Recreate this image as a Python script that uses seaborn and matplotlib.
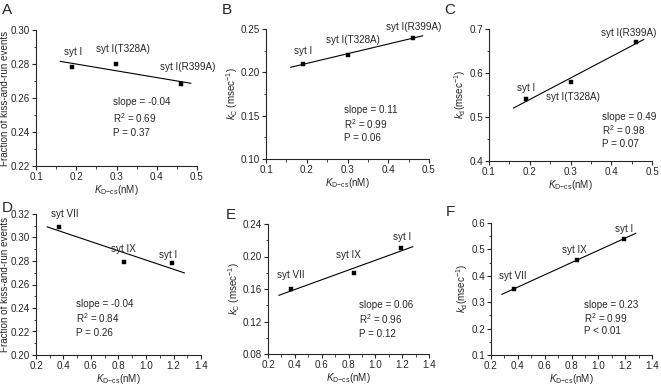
import numpy as np
import pandas as pd
import matplotlib
matplotlib.use("Agg")
import matplotlib.pyplot as plt
from matplotlib.ticker import MultipleLocator, FormatStrFormatter
import seaborn as sns

# top row: syt I and its mutants
kd_top = [0.19, 0.30, 0.46]
labels_top = ["syt I", "syt I(T328A)", "syt I(R399A)"]
frac_top = [0.278, 0.280, 0.268]
kc_top = [0.21, 0.22, 0.24]
kdiss_top = [0.54, 0.58, 0.67]

# bottom row: syt isoforms
kd_bot = [0.37, 0.84, 1.19]
labels_bot = ["syt VII", "syt IX", "syt I"]
frac_bot = [0.309, 0.279, 0.278]
kc_bot = [0.16, 0.18, 0.21]
kdiss_bot = [0.35, 0.46, 0.54]

stats_text = {
    "A": ["slope = -0.04", "R$^2$ = 0.69", "P = 0.37"],
    "B": ["slope = 0.11", "R$^2$ = 0.99", "P = 0.06"],
    "C": ["slope = 0.49", "R$^2$ = 0.98", "P = 0.07"],
    "D": ["slope = -0.04", "R$^2$ = 0.84", "P = 0.26"],
    "E": ["slope = 0.06", "R$^2$ = 0.96", "P = 0.12"],
    "F": ["slope = 0.23", "R$^2$ = 0.99", "P < 0.01"],
}

sns.set_style("ticks")
plt.rcParams["font.family"] = ["Liberation Sans", "DejaVu Sans"]
plt.rcParams["mathtext.fontset"] = "custom"
plt.rcParams["mathtext.rm"] = "Liberation Sans"
plt.rcParams["mathtext.it"] = "Liberation Sans:italic"
plt.rcParams["xtick.direction"] = "out"
plt.rcParams["ytick.direction"] = "out"

fs = 7.1
W, H = 661, 385
fig = plt.figure(figsize=(W / 100, H / 100), dpi=100)

ylab_frac = "Fraction of kiss-and-run events"
ylab_kc = r"$k_{\mathrm{C}}$ (msec$^{-1}$)"
ylab_kd = r"$k_{\mathrm{d}}$(msec$^{-1}$)"
xlab = r"$K_{\mathrm{D\!-\!cs}}$(nM)"

# panel settings: name, x, y, labels, pixel box (left, top, right, bottom),
# xlim, xstep, ylim, ystep, yfmt, ylabel, fit range, label positions, stats pos
panels = [
    ("A", kd_top, frac_top, labels_top, (36, 30, 197, 166), (0.1, 0.5), 0.1,
     (0.22, 0.30), 0.02, "%.2f", ylab_frac, (0.16, 0.485),
     [(0.191, 0.2872), (0.317, 0.2886), (0.478, 0.2784)], (0.477, 0.47, 0.115)),
    ("B", kd_top, kc_top, labels_top, (266, 29, 429, 159), (0.1, 0.5), 0.1,
     (0.10, 0.25), 0.05, "%.2f", ylab_kc, (0.16, 0.485),
     [(0.19, 0.225), (0.314, 0.2373), (0.463, 0.2527)], (0.48, 0.377, 0.108)),
    ("C", kd_top, kdiss_top, labels_top, (489, 29, 652, 161), (0.1, 0.5), 0.1,
     (0.4, 0.7), 0.1, "%.1f", ylab_kd, (0.16, 0.48),
     [(0.19, 0.565), (0.307, 0.5445), (0.444, 0.692)], (0.695, 0.335, 0.104)),
    ("D", kd_bot, frac_bot, labels_bot, (36, 214, 201, 355), (0.2, 1.4), 0.2,
     (0.20, 0.32), 0.02, "%.2f", ylab_frac, (0.28, 1.28),
     [(0.411, 0.3203), (0.835, 0.2905), (1.162, 0.2849)], (0.242, 0.364, 0.104)),
    ("E", kd_bot, kc_bot, labels_bot, (268, 224, 429, 354), (0.2, 1.4), 0.2,
     (0.08, 0.24), 0.04, "%.2f", ylab_kc, (0.28, 1.28),
     [(0.371, 0.1769), (0.797, 0.2015), (1.196, 0.2237)], (0.567, 0.375, 0.11)),
    ("F", kd_bot, kdiss_bot, labels_bot, (491, 223, 652, 355), (0.2, 1.4), 0.2,
     (0.1, 0.6), 0.1, "%.1f", ylab_kd, (0.28, 1.28),
     [(0.366, 0.398), (0.824, 0.497), (1.192, 0.5785)], (0.576, 0.376, 0.098)),
]

letter_pos = {"A": (2, 14), "B": (222, 14), "C": (444, 14),
              "D": (2, 212), "E": (226, 219), "F": (446, 216)}

for (name, xs, ys, labs, box, xlim, xstep, ylim, ystep, yfmt, ylabel,
     fit_rng, lab_pos, stat_pos) in panels:
    l, t, r, b = box
    ax = fig.add_axes([l / W, 1 - b / H, (r - l) / W, (b - t) / H])
    df = pd.DataFrame({"x": xs, "y": ys})
    sns.scatterplot(data=df, x="x", y="y", marker="s", s=10, color="black",
                    edgecolor="black", linewidth=0.3, ax=ax, zorder=3)
    # least squares fit line drawn over a slightly wider range than the data
    k, c = np.polyfit(xs, ys, 1)
    xx = np.array(fit_rng)
    ax.plot(xx, k * xx + c, color="black", lw=0.8)

    ax.set_xlim(*xlim)
    ax.set_ylim(*ylim)
    ax.xaxis.set_major_locator(MultipleLocator(xstep))
    ax.xaxis.set_minor_locator(MultipleLocator(xstep / 2))
    ax.yaxis.set_major_locator(MultipleLocator(ystep))
    ax.yaxis.set_minor_locator(MultipleLocator(ystep / 2))
    ax.xaxis.set_major_formatter(FormatStrFormatter("%.1f"))
    ax.yaxis.set_major_formatter(FormatStrFormatter(yfmt))
    ax.tick_params(which="major", length=3, width=0.8, labelsize=fs, pad=1.2)
    ax.tick_params(which="minor", length=1.8, width=0.6)
    for sp in ["left", "bottom"]:
        ax.spines[sp].set_linewidth(0.8)
    sns.despine(ax=ax)

    ax.set_xlabel(xlab, fontsize=fs, labelpad=0.5)
    ax.set_ylabel(ylabel, fontsize=fs, labelpad=1)

    for lab, (lx, ly) in zip(labs, lab_pos):
        ax.text(lx, ly, lab, fontsize=fs, ha="center", va="center", clip_on=False)

    sx, sy, dy = stat_pos
    for i, line in enumerate(stats_text[name]):
        ax.text(sx, sy - i * dy, line, transform=ax.transAxes, fontsize=fs,
                ha="left", va="center")

    px, py = letter_pos[name]
    fig.text(px / W, 1 - py / H, name, fontsize=11, ha="left", va="baseline")

fig.savefig("out.png", dpi=100)
